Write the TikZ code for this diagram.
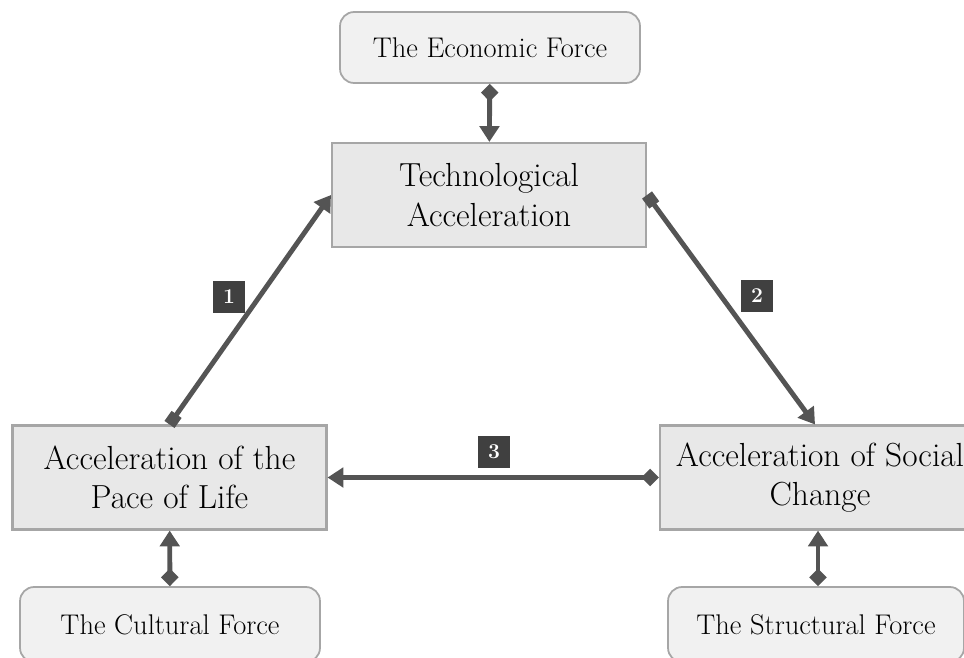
\documentclass[tikz,border=0pt]{standalone}
\usetikzlibrary{arrows.meta}

\definecolor{boxfill}{HTML}{E8E8E8}
\definecolor{forcefill}{HTML}{F1F1F1}
\definecolor{boxline}{HTML}{A6A6A6}
\definecolor{arrowgray}{HTML}{545454}
\definecolor{tagfill}{HTML}{404040}

\tikzset{
    accel/.style={draw=boxline, line width=1.2pt, fill=boxfill, align=center,
        minimum width=6.28cm, minimum height=2.08cm, inner sep=1pt,
        font=\fontsize{19}{22.5}\selectfont},
    force/.style={draw=boxline, line width=1pt, fill=forcefill, rounded corners=8pt,
        minimum width=6cm, minimum height=1.5cm, font=\fontsize{16.2}{18}\selectfont},
    link/.style={draw=arrowgray, line width=2.8pt},
    tag/.style={fill=tagfill, text=white, minimum size=0.64cm, inner sep=0pt,
        font=\bfseries\fontsize{12}{14}\selectfont},
}

\begin{document}
\begin{tikzpicture}[x=0.02cm, y=-0.02cm]
    \useasboundingbox (0,0) rectangle (964,657);

    % the three accelerations
    \node[accel] (tech) at (489,195) {Technological\\Acceleration};
    \node[accel] (life) at (169.5,477.5) {Acceleration of the\\Pace of Life};
    \node[accel, minimum width=6.4cm] (social) at (820,477.5) {Acceleration of Social\\Change};

    % the driving forces
    \node[force, minimum height=1.42cm] (economic) at (490,47.5) {The Economic Force};
    \node[force] (cultural) at (170,624.5) {The Cultural Force};
    \node[force, minimum width=5.92cm] (structural) at (816,624.5) {The Structural Force};

    % forces into the accelerations
    \draw[link, {Diamond[length=10pt,width=10pt]}-{Triangle[length=9pt,width=11pt]}] (economic) -- (tech);
    \draw[link, {Diamond[length=10pt,width=10pt]}-{Triangle[length=9pt,width=11pt]}] (cultural) -- (life);
    \draw[link, {Diamond[length=10pt,width=10pt]}-{Triangle[length=9pt,width=11pt]}] (structural.north -| 818,0) -- (social.south -| 818,0);

    % the cycle
    \draw[link, {Square[length=7pt,width=7pt]}-{Triangle[length=9pt,width=11pt]}] (life.north) -- (tech.west);
    \draw[link, {Square[length=7pt,width=7pt]}-{Triangle[length=9pt,width=11pt]}] (tech.east) -- (social.north -| 815,0);
    \draw[link, {Diamond[length=10pt,width=10pt]}-{Triangle[length=9pt,width=11pt]}] (social.west) -- (life.east);

    \node[tag] (n1) at (229,297) {1};
    \node[tag] (n2) at (757,296) {2};
    \node[tag] (n3) at (494,452) {3};
\end{tikzpicture}
\end{document}
